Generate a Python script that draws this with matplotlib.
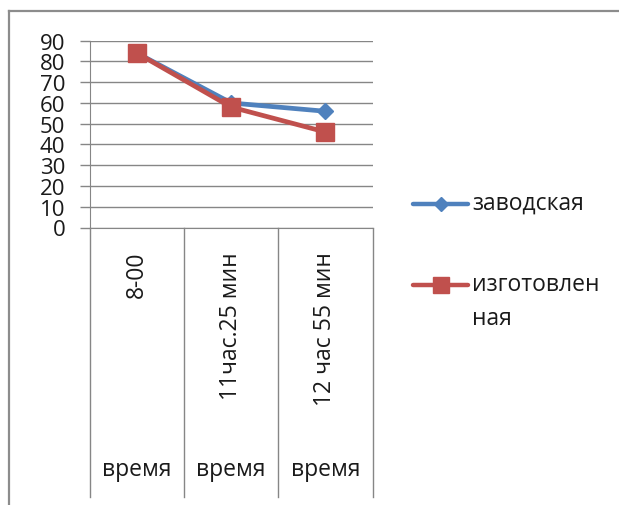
import matplotlib
matplotlib.use("Agg")
import matplotlib.pyplot as plt
from matplotlib.lines import Line2D
from matplotlib.transforms import blended_transform_factory

plt.rcParams['font.family'] = ['Open Sans', 'DejaVu Sans']

## data
categories = ["8-00", "11час.25 мин", "12 час 55 мин"]
group_label = "время"
series_names = ["заводская", "изготовлен\nная"]
zavod = [84, 60, 56]
izgot = [84, 58, 46]
y_ticks = [0, 10, 20, 30, 40, 50, 60, 70, 80, 90]

blue = "#4F81BD"
red = "#C0504D"
grid = "#868686"
txt = "#1a1a1a"
fs = 16.5

W, H = 619, 506
fig = plt.figure(figsize=(W / 100, H / 100), dpi=100)

def fx(px):
    return px / W

def fy(py):
    return 1 - py / H

# outer frame (cut at right and bottom)
fig.add_artist(Line2D([fx(8.5), fx(8.5)], [0, fy(11.5)], color="#8c8c8c", lw=1.6))
fig.add_artist(Line2D([fx(8.5), 1], [fy(11.5), fy(11.5)], color="#8c8c8c", lw=1.6))

top, bot = 41.7, 228.5
ax = fig.add_axes([fx(90), fy(bot), fx(372.5) - fx(90), fy(top) - fy(bot)])
ax_h = bot - top

x = [i + 0.5 for i in range(len(categories))]
ax.plot(x, zavod, color=blue, lw=3.4, marker='D', ms=8.5, zorder=3, clip_on=False)
ax.plot(x, izgot, color=red, lw=3.4, marker='s', ms=13, zorder=4, clip_on=False)

ax.set_xlim(0, len(categories))
ax.set_ylim(0, 90)
ax.set_yticks(y_ticks)
ax.set_xticks([])
ax.tick_params(axis='y', length=7.2, width=1, color=grid, pad=10.5,
               labelsize=16, labelcolor=txt)
ax.grid(axis='y', color=grid, lw=1)
ax.set_axisbelow(True)
for s in ['top', 'right']:
    ax.spines[s].set_visible(False)
ax.spines['left'].set_color(grid)
ax.spines['bottom'].set_color(grid)

# category table below the axis
table_bottom = -(498 - bot) / ax_h
for i in range(len(categories) + 1):
    ax.axvline(i, ymin=table_bottom, ymax=0, color=grid, lw=1, clip_on=False)

trans = blended_transform_factory(ax.transData, ax.transAxes)
for xc, lab in zip(x, categories):
    ax.text(xc, -(252 - bot) / ax_h, lab, rotation=90, ha='center', va='top',
            fontsize=fs, color=txt, transform=trans)
    ax.text(xc, -(470 - bot) / ax_h, group_label, ha='center', va='center',
            fontsize=fs, color=txt, transform=trans)

# legend
leg_y = [205, 286]
styles = [(blue, 'D', 7), (red, 's', 12)]
for (col, mk, ms), name, yy in zip(styles, series_names, leg_y):
    fig.add_artist(Line2D([fx(413), fx(468)], [fy(yy), fy(yy)], color=col, lw=3.2,
                          solid_capstyle='round'))
    fig.add_artist(Line2D([fx(440.5)], [fy(yy)], color=col, marker=mk, ms=ms))
    fig.text(fx(472), fy(yy - 13), name, ha='left', va='top', fontsize=fs,
             color=txt, linespacing=1.55)

fig.savefig("out.png", dpi=100)
